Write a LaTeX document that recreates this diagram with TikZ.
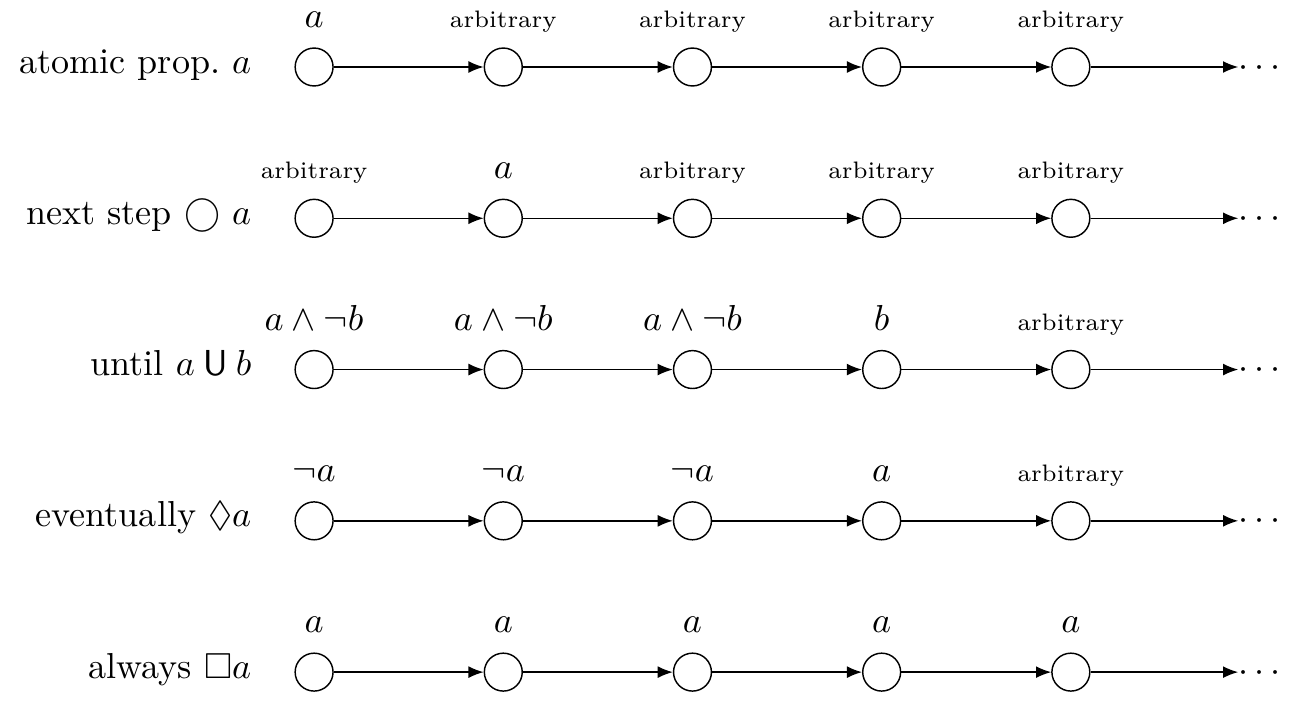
\documentclass[tikz,border=0pt]{standalone}
\usepackage{amssymb}
\usetikzlibrary{positioning,arrows.meta}
\newcommand{\arbitrary}{{\fontsize{6.6}{8}\selectfont arbitrary}}
\tikzset{
		etat/.style={draw, circle, minimum size=10.5pt, inner sep=0pt},
		etiq/.style={inner sep=0pt, text depth=2pt, yshift=3.3pt},
		rang/.style={anchor=base east, inner sep=0pt},
		fleche/.style={-{Latex[length=4.2pt,width=3.3pt]}},
		suite/.style={inner sep=0pt, text height=5pt, text depth=0pt}
	}
\begin{document}
\begin{tikzpicture}[]
		% les cinq traces
		\matrix (m) [row sep={41.9pt,between origins}, column sep={52.4pt,between origins}] {
			% 1re ligne
			\node[etat, label={[etiq]above:$a$}](e11){}; & \node[etat, label={[etiq]above:\arbitrary}](e12){}; & \node[etat, label={[etiq]above:\arbitrary}](e13){}; & \node[etat, label={[etiq]above:\arbitrary}](e14){}; & \node[etat, label={[etiq]above:\arbitrary}](e15){}; \\
			% 2me ligne
			\node[etat, label={[etiq]above:\arbitrary}](e21){}; & \node[etat, label={[etiq]above:$a$}](e22){}; & \node[etat, label={[etiq]above:\arbitrary}](e23){}; & \node[etat, label={[etiq]above:\arbitrary}](e24){}; & \node[etat, label={[etiq]above:\arbitrary}](e25){}; \\
			\node[etat, label={[etiq]above:$a\wedge\neg b$}](e31){}; & \node[etat, label={[etiq]above:$a\wedge\neg b$}](e32){}; & \node[etat, label={[etiq]above:$a\wedge\neg b$}](e33){}; & \node[etat, label={[etiq]above:$b$}](e34){}; & \node[etat, label={[etiq]above:\arbitrary}](e35){}; \\
			\node[etat, label={[etiq]above:$\neg a$}](e41){}; & \node[etat, label={[etiq]above:$\neg a$}](e42){}; & \node[etat, label={[etiq]above:$\neg a$}](e43){}; & \node[etat, label={[etiq]above:$a$}](e44){}; & \node[etat, label={[etiq]above:\arbitrary}](e45){}; \\
			\node[etat, label={[etiq]above:$a$}](e51){}; & \node[etat, label={[etiq]above:$a$}](e52){}; & \node[etat, label={[etiq]above:$a$}](e53){}; & \node[etat, label={[etiq]above:$a$}](e54){}; & \node[etat, label={[etiq]above:$a$}](e55){}; \\
		};
		% noms des lignes
		\node[rang] (r1) at ([xshift=-17.2pt, yshift=-1.7pt]e11.center) {atomic prop.\ $a$};
		\node[rang] (r2) at ([xshift=-17.2pt, yshift=-1.7pt]e21.center) {next step $\bigcirc$ $a$};
		\node[rang] (r3) at ([xshift=-17.2pt, yshift=-1.7pt]e31.center) {until $a\mathbin{\mathsf{U}}b$};
		\node[rang] (r4) at ([xshift=-17.2pt, yshift=-1.7pt]e41.center) {eventually $\Diamond a$};
		\node[rang] (r5) at ([xshift=-17.2pt, yshift=-1.7pt]e51.center) {always $\Box a$};
		% transitions
		\foreach \r in {1,...,5} {
			\foreach \c [evaluate=\c as \d using int(\c+1)] in {1,...,4}
				\draw[fleche] (e\r\c) -- (e\r\d);
			\node[suite, right=40.9pt of e\r5] (s\r) {$\cdots$};
			\draw[fleche] (e\r5) -- (s\r);
		}
		\pgfresetboundingbox
		\useasboundingbox ([xshift=-87pt, yshift=18.56pt]e11.center) rectangle ++(358.4pt,-200.3pt);
	\end{tikzpicture}
\end{document}
